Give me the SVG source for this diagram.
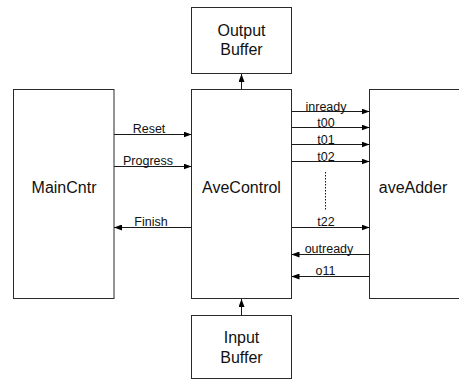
<svg xmlns="http://www.w3.org/2000/svg" width="459" height="381" viewBox="0 0 459 381">
  <style>
    .box { fill: #ffffff; stroke: #2a2a2a; stroke-width: 1; }
    .big { font-family: "Liberation Sans", Arial, sans-serif; font-size: 16px; fill: #111; text-anchor: middle; }
    .sig { font-family: "Liberation Sans", Arial, sans-serif; font-size: 12.5px; fill: #111; text-anchor: middle; }
    .wire { stroke: #1a1a1a; stroke-width: 1; fill: none; marker-end: url(#tip); }
  </style>
  <defs>
    <marker id="tip" viewBox="0 0 8 6" refX="8" refY="3" markerWidth="8" markerHeight="6" markerUnits="userSpaceOnUse" orient="auto">
      <path d="M0,0 L8,3 L0,6 Z" fill="#000"/>
    </marker>
  </defs>

  <rect width="459" height="381" fill="#ffffff"/>

  <g id="output-buffer">
    <rect class="box" x="191.5" y="7.5" width="100" height="66"/>
    <text class="big" x="241.5" y="36">Output</text>
    <text class="big" x="241.5" y="55">Buffer</text>
  </g>

  <g id="main-cntr">
    <rect class="box" x="13.5" y="89.5" width="100.5" height="209"/>
    <text class="big" x="64" y="193">MainCntr</text>
  </g>

  <g id="ave-control">
    <rect class="box" x="191.5" y="89.5" width="100" height="209"/>
    <text class="big" x="241.5" y="193">AveControl</text>
  </g>

  <g id="ave-adder">
    <rect class="box" x="369.5" y="89.5" width="100" height="209"/>
    <text class="big" x="413" y="193">aveAdder</text>
  </g>

  <g id="input-buffer">
    <rect class="box" x="191.5" y="315.5" width="100" height="63"/>
    <text class="big" x="241.5" y="343">Input</text>
    <text class="big" x="241.5" y="363">Buffer</text>
  </g>

  <g id="connectors">
    <!-- MainCntr <-> AveControl -->
    <line class="wire" x1="114" y1="134.5" x2="191.5" y2="134.5"/>
    <text class="sig" x="149" y="133">Reset</text>
    <line class="wire" x1="114" y1="166.5" x2="191.5" y2="166.5"/>
    <text class="sig" x="148" y="165">Progress</text>
    <line class="wire" x1="191.5" y1="227.5" x2="114" y2="227.5"/>
    <text class="sig" x="151" y="226">Finish</text>

    <!-- buffers -->
    <line class="wire" x1="241.5" y1="89.5" x2="241.5" y2="74"/>
    <line class="wire" x1="241.5" y1="315.5" x2="241.5" y2="299"/>

    <!-- AveControl -> aveAdder -->
    <line class="wire" x1="291.5" y1="111.5" x2="369.5" y2="111.5"/>
    <text class="sig" x="326" y="110.5">inready</text>
    <line class="wire" x1="291.5" y1="127.5" x2="369.5" y2="127.5"/>
    <text class="sig" x="326" y="126.5">t00</text>
    <line class="wire" x1="291.5" y1="144.5" x2="369.5" y2="144.5"/>
    <text class="sig" x="326" y="143.5">t01</text>
    <line class="wire" x1="291.5" y1="161.5" x2="369.5" y2="161.5"/>
    <text class="sig" x="326" y="160.5">t02</text>
    <line x1="325.5" y1="172" x2="325.5" y2="210" stroke="#111" stroke-width="1" stroke-dasharray="1.5,1.5"/>
    <line class="wire" x1="291.5" y1="227.5" x2="369.5" y2="227.5"/>
    <text class="sig" x="326" y="226">t22</text>

    <!-- aveAdder -> AveControl -->
    <line class="wire" x1="369.5" y1="254.5" x2="291.5" y2="254.5"/>
    <text class="sig" x="329" y="253">outready</text>
    <line class="wire" x1="369.5" y1="276.5" x2="291.5" y2="276.5"/>
    <text class="sig" x="325.5" y="275">o11</text>
  </g>
</svg>
